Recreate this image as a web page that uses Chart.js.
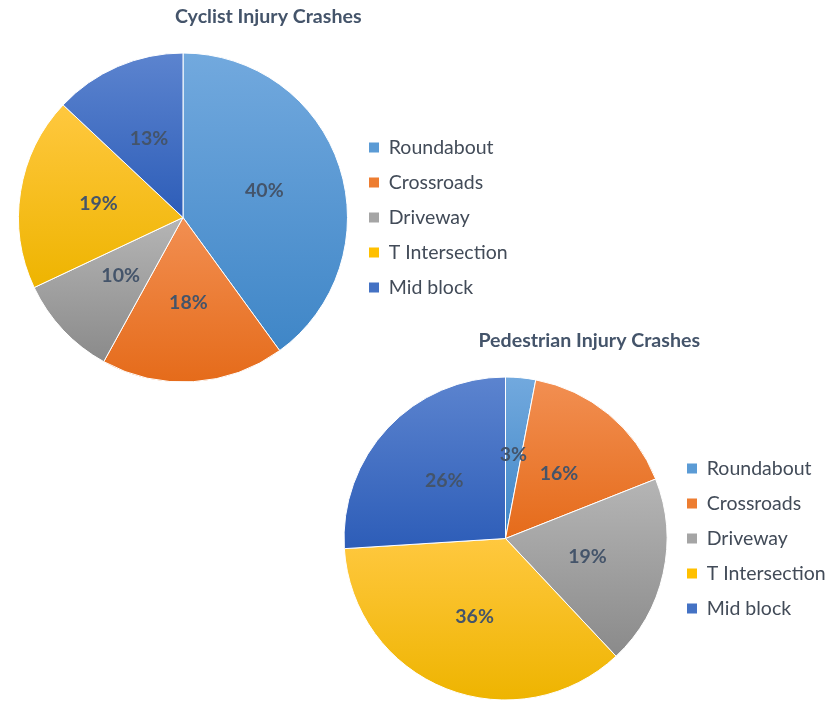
<!DOCTYPE html>
<html lang="en">
<head>
    <meta charset="UTF-8">
    <title>Injury Crashes</title>
    <style>
        html, body {
            margin: 0;
            padding: 0;
            background: #ffffff;
            overflow: hidden;
        }
        .wrap {
            position: absolute;
        }
        #wrapCyclist { left: 0; top: 0; width: 524px; height: 400px; }
        #wrapPed { left: 330px; top: 318px; width: 509px; height: 387px; }
    </style>
</head>
<body>

<div class="wrap" id="wrapCyclist"><canvas id="cyclistChart"></canvas></div>
<div class="wrap" id="wrapPed"><canvas id="pedChart"></canvas></div>

<script src="https://cdn.jsdelivr.net/npm/chart.js"></script>

<script>
    const categories = ['Roundabout', 'Crossroads', 'Driveway', 'T Intersection', 'Mid block'];
    const cyclist_values = [40, 18, 10, 19, 13];
    const pedestrian_values = [3, 16, 19, 36, 26];

    // light (top) and dark (bottom) end of each slice gradient
    const colors_top = ['#72a9de', '#f28f52', '#b5b5b5', '#ffc83f', '#5c84cf'];
    const colors_bottom = ['#3f86c7', '#e56b1a', '#8a8a8a', '#eeb400', '#2d5db8'];
    const colors_flat = ['#5b9bd5', '#ed7d31', '#a5a5a5', '#ffc000', '#4472c4'];

    const text_color = '#44546a';
    const legend_color = '#424b58';
    const font_family = 'Lato, "Open Sans", sans-serif';

    // gradient over the vertical extent of each slice
    function sliceGradient(context) {
        const chart = context.chart;
        const area = chart.chartArea;
        const i = context.dataIndex;
        if (!area || context.type !== 'data') return colors_flat[i];
        const values = chart.data.datasets[0].data;
        const total = values.reduce((a, b) => a + b, 0);
        let before = 0;
        for (let k = 0; k < i; ++k) before += values[k];
        const a0 = -Math.PI / 2 + before / total * 2 * Math.PI;
        const a1 = a0 + values[i] / total * 2 * Math.PI;
        const cy = (area.top + area.bottom) / 2;
        const r = Math.min(area.right - area.left, area.bottom - area.top) / 2;
        let ymin = Math.min(cy, cy + r * Math.sin(a0), cy + r * Math.sin(a1));
        let ymax = Math.max(cy, cy + r * Math.sin(a0), cy + r * Math.sin(a1));
        const inArc = (a) => {
            for (let t = a - 4 * Math.PI; t <= a1 + 0.0001; t += 2 * Math.PI) {
                if (t >= a0 && t <= a1) return true;
            }
            return false;
        };
        if (inArc(-Math.PI / 2)) ymin = cy - r;
        if (inArc(Math.PI / 2)) ymax = cy + r;
        const g = chart.ctx.createLinearGradient(0, ymin, 0, ymax);
        g.addColorStop(0, colors_top[i]);
        g.addColorStop(1, colors_bottom[i]);
        return g;
    }

    // percentage labels inside the slices
    const sliceLabels = {
        id: 'sliceLabels',
        afterDatasetsDraw(chart) {
            const ctx = chart.ctx;
            const meta = chart.getDatasetMeta(0);
            const values = chart.data.datasets[0].data;
            ctx.save();
            ctx.font = 'bold 19.5px ' + font_family;
            ctx.fillStyle = text_color;
            ctx.textAlign = 'center';
            ctx.textBaseline = 'middle';
            meta.data.forEach((arc, i) => {
                const p = arc.getProps(['x', 'y', 'startAngle', 'endAngle', 'outerRadius']);
                const mid = (p.startAngle + p.endAngle) / 2;
                const d = p.outerRadius * 0.52;
                ctx.fillText(values[i] + '%', p.x + Math.cos(mid) * d, p.y + Math.sin(mid) * d);
            });
            ctx.restore();
        }
    };

    // fixed legend width so the pie lands where it should,
    // and legend centred on the pie vertically
    function legendPlacement(width) {
        return {
            id: 'legendPlacement',
            beforeInit(chart) {
                const legend = chart.legend;
                const fit = legend.fit;
                legend.fit = function () {
                    fit.bind(legend)();
                    this.width = width;
                };
            },
            afterLayout(chart) {
                const legend = chart.legend;
                const area = chart.chartArea;
                const s = (area.top + area.bottom) / 2 - (legend.top + legend.bottom) / 2;
                legend.top += s;
                legend.bottom += s;
            }
        };
    }

    function makePie(canvasId, title, values, padding, titlePadding, legendWidth) {
        return new Chart(document.getElementById(canvasId), {
            type: 'pie',
            data: {
                labels: categories,
                datasets: [{
                    data: values,
                    backgroundColor: sliceGradient,
                    borderColor: '#ffffff',
                    borderWidth: 1,
                }],
            },
            options: {
                responsive: true,
                maintainAspectRatio: false,
                animation: false,
                layout: {padding: padding},
                plugins: {
                    title: {
                        display: true,
                        text: title,
                        color: text_color,
                        font: {family: font_family, size: 19.6, weight: 'bold'},
                        padding: titlePadding,
                    },
                    legend: {
                        position: 'right',
                        labels: {
                            color: legend_color,
                            font: {family: font_family, size: 19.5},
                            boxWidth: 10,
                            boxHeight: 10,
                            padding: 15.5,
                            generateLabels(chart) {
                                return categories.map((c, i) => ({
                                    text: c,
                                    fillStyle: colors_flat[i],
                                    strokeStyle: colors_flat[i],
                                    lineWidth: 0,
                                    fontColor: legend_color,
                                    index: i,
                                }));
                            },
                        },
                    },
                    tooltip: {enabled: false},
                },
            },
            plugins: [sliceLabels, legendPlacement(legendWidth)],
        });
    }

    makePie('cyclistChart', 'Cyclist Injury Crashes', cyclist_values,
        {left: 12.5, top: 0, right: 0, bottom: 17.5}, {top: 5.2, bottom: 23.8}, 170.5);
    makePie('pedChart', 'Pedestrian Injury Crashes', pedestrian_values,
        {left: 9.5, top: 0, right: 0, bottom: 4.5}, {top: 11.2, bottom: 23.8}, 167.5);
</script>
</body>
</html>
